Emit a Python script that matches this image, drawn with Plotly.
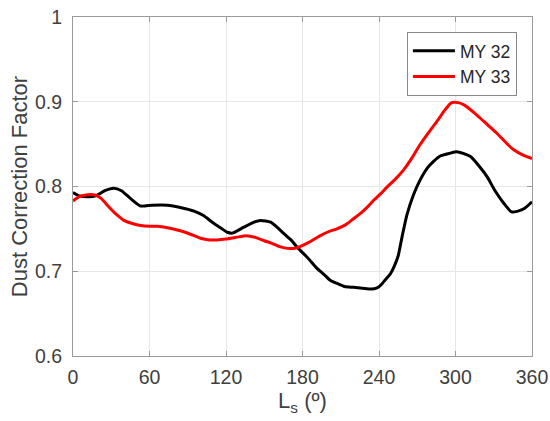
import plotly.graph_objects as go

# MY 32 (black)
ls_my32 = [0, 5, 12, 18, 25, 32, 38, 45, 53, 62, 74, 85, 95, 102, 110, 116, 121, 125,
           134, 142, 147, 155, 160, 165, 171, 176, 184, 191, 197, 202, 208, 213, 220,
           227, 234, 238, 241, 245, 249, 252, 255, 258, 262, 267, 272, 278, 283, 288,
           295, 301, 306, 312, 318, 325, 331, 338, 344, 349, 354, 360]
dcf_my32 = [0.793, 0.789, 0.788, 0.789, 0.795, 0.798, 0.795, 0.786, 0.777, 0.778, 0.778,
            0.775, 0.771, 0.766, 0.757, 0.751, 0.746, 0.745, 0.752, 0.758, 0.760, 0.758,
            0.752, 0.745, 0.737, 0.728, 0.716, 0.704, 0.696, 0.689, 0.685, 0.682, 0.681,
            0.680, 0.679, 0.680, 0.683, 0.690, 0.697, 0.706, 0.718, 0.740, 0.767, 0.790,
            0.807, 0.822, 0.830, 0.836, 0.839, 0.841, 0.839, 0.835, 0.825, 0.811, 0.795,
            0.780, 0.770, 0.771, 0.774, 0.782]

# MY 33 (red)
ls_my33 = [0, 5, 10, 17, 22, 28, 34, 40, 47, 53, 60, 66, 75, 81, 88, 95, 100, 107, 113,
           120, 128, 136, 143, 150, 156, 162, 168, 174, 178, 185, 194, 201, 207, 214,
           220, 226, 231, 236, 241, 246, 253, 259, 266, 272, 279, 286, 292, 297, 302,
           307, 317, 325, 333, 340, 346, 353, 360]
dcf_my33 = [0.783, 0.788, 0.790, 0.790, 0.786, 0.776, 0.767, 0.760, 0.756, 0.754, 0.753,
            0.753, 0.751, 0.749, 0.746, 0.742, 0.739, 0.737, 0.737, 0.738, 0.740, 0.742,
            0.740, 0.736, 0.733, 0.729, 0.727, 0.727, 0.729, 0.734, 0.742, 0.747, 0.750,
            0.755, 0.762, 0.769, 0.776, 0.784, 0.791, 0.799, 0.809, 0.819, 0.834, 0.849,
            0.864, 0.878, 0.891, 0.899, 0.899, 0.896, 0.884, 0.873, 0.862, 0.851, 0.843,
            0.837, 0.833]

x_ticks = [0, 60, 120, 180, 240, 300, 360]
y_ticks = [0.6, 0.7, 0.8, 0.9, 1.0]
y_tick_labels = ["0.6", "0.7", "0.8", "0.9", "1"]

FONT = "Liberation Sans, Arial, sans-serif"
TEXT = "#404040"
AXIS = "#9a9a9a"
GRID = "#e6e6e6"

fig = go.Figure()
fig.add_trace(go.Scatter(x=ls_my32, y=dcf_my32, mode="lines", name="MY 32",
                         line=dict(color="black", width=3, shape="spline", smoothing=0.6)))
fig.add_trace(go.Scatter(x=ls_my33, y=dcf_my33, mode="lines", name="MY 33",
                         line=dict(color="#ff0000", width=3, shape="spline", smoothing=0.6)))

fig.update_layout(
    width=550, height=421,
    margin=dict(l=73, r=18, t=17, b=65, pad=0, autoexpand=False),
    paper_bgcolor="white", plot_bgcolor="white",
    font=dict(family=FONT, size=19.5, color=TEXT),
    showlegend=True,
    legend=dict(x=0.7275, y=0.956, xanchor="left", yanchor="top",
                bgcolor="white", bordercolor="#8a8a8a", borderwidth=1,
                font=dict(size=17.5, color="#262626"),
                tracegroupgap=0, itemwidth=42),
)
fig.update_xaxes(
    range=[0, 360], tickmode="array", tickvals=x_ticks, automargin=False,
    showline=True, linecolor=AXIS, linewidth=1, mirror="ticks",
    ticks="inside", ticklen=5, tickcolor=AXIS,
    showgrid=True, gridcolor=GRID, gridwidth=1, zeroline=False,
    tickfont=dict(size=19.5, color=TEXT), ticklabelstandoff=4,
    title=dict(text="L<sub>s</sub> (º)", font=dict(size=22, color=TEXT), standoff=3),
)
fig.update_yaxes(
    range=[0.6, 1.0], tickmode="array", tickvals=y_ticks, ticktext=y_tick_labels,
    automargin=False,
    showline=True, linecolor=AXIS, linewidth=1, mirror="ticks",
    ticks="inside", ticklen=5, tickcolor=AXIS,
    showgrid=True, gridcolor=GRID, gridwidth=1, zeroline=False,
    tickfont=dict(size=19.5, color=TEXT), ticklabelstandoff=6,
    title=dict(text="Dust Correction Factor", font=dict(size=22, color=TEXT), standoff=1),
)

fig.write_html("out.html", config={"displayModeBar": False},
               post_script="document.body.style.margin='0';document.body.style.padding='0';")
